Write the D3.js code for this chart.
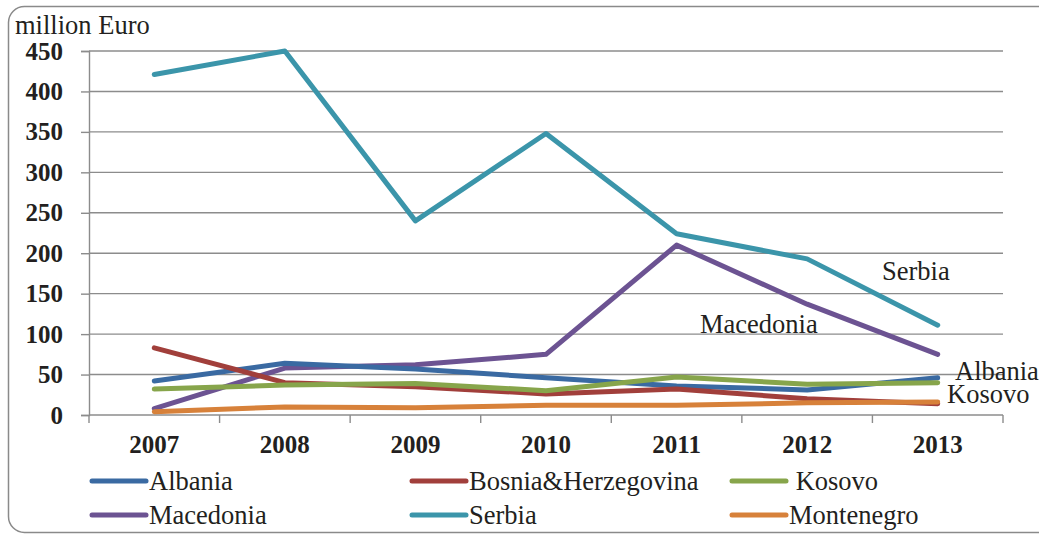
<!DOCTYPE html>
<html>
<head>
<meta charset="utf-8">
<script src="https://cdn.jsdelivr.net/npm/d3@7"></script>
<style>
body{margin:0;background:#fff;}
</style>
</head>
<body>
<div id="chart"></div>
<script>
var years=["2007","2008","2009","2010","2011","2012","2013"];
var yTicks=[0,50,100,150,200,250,300,350,400,450];
var albania=[42,64,57,46,36,31,46];
var bosnia=[83,40,35,26,32,20,14];
var kosovo=[32,37,39,30,47,38,40];
var macedonia=[8,58,62,75,210,137,75];
var serbia=[421,450,240,348,224,193,111];
var montenegro=[4,10,9,12,12,15,16];

var series=[
  {name:"Albania",values:albania,color:"#3a6aa2"},
  {name:"Bosnia&Herzegovina",values:bosnia,color:"#a13f3b"},
  {name:" Kosovo",values:kosovo,color:"#87a54b"},
  {name:"Macedonia",values:macedonia,color:"#6c5392"},
  {name:"Serbia",values:serbia,color:"#3b95aa"},
  {name:"Montenegro",values:montenegro,color:"#d7813a"}
];
// order lines are drawn
var drawOrder=[4,3,0,1,2,5];

var serifFont="Liberation Serif";
var textColor="#231f20";
var textSize="26.5px";
var tickSize="25px";

var w=1039,h=536;
var pad={top:51,bottom:121,left:89,right:36};

var svg=d3.select("#chart").append("svg")
          .attr("width",w)
          .attr("height",h)
          .attr("font-family",serifFont);

//Rounded frame
svg.append("rect")
   .attr("x",8.5).attr("y",6.5)
   .attr("width",1045).attr("height",526)
   .attr("rx",16).attr("ry",16)
   .style("fill","none")
   .style("stroke","#8a8a8a")
   .style("stroke-width",1.5);

var xScale=d3.scaleBand()
             .domain(years)
             .range([pad.left,w-pad.right])
             .padding(0);
var yScale=d3.scaleLinear()
             .domain([0,450])
             .range([h-pad.bottom,pad.top]);

//Grid lines
svg.append("g")
   .selectAll("line")
   .data(yTicks.filter(function(d){return d>0;}))
   .enter()
   .append("line")
   .attr("x1",pad.left).attr("x2",w-pad.right)
   .attr("y1",function(d){return yScale(d);})
   .attr("y2",function(d){return yScale(d);})
   .style("stroke","#8c8c8c")
   .style("stroke-width",1.4);

//Y axis
var yAxis=d3.axisLeft(yScale).tickValues(yTicks).tickSize(8).tickPadding(18);
var gy=svg.append("g")
   .attr("transform","translate("+pad.left+",0)")
   .call(yAxis)
   .attr("font-family",serifFont);
gy.select(".domain").style("stroke","#8c8c8c").style("stroke-width",1.4);
gy.selectAll(".tick line").style("stroke","#8c8c8c").style("stroke-width",1.4);
gy.selectAll(".tick text")
  .style("font-family",serifFont)
  .style("font-size",tickSize)
  .style("font-weight","bold")
  .style("fill",textColor);

//X axis: labels at band centres, tick marks at band edges
var xAxis=d3.axisBottom(xScale).tickSize(0).tickPadding(20);
var gx=svg.append("g")
   .attr("transform","translate(0,"+(h-pad.bottom)+")")
   .call(xAxis)
   .attr("font-family",serifFont);
gx.select(".domain").remove();
gx.selectAll(".tick text")
  .style("font-family",serifFont)
  .style("font-size",tickSize)
  .style("font-weight","bold")
  .style("fill",textColor);
var edges=years.map(function(d){return xScale(d);}).concat([w-pad.right]);
gx.append("line")
  .attr("x1",pad.left).attr("x2",w-pad.right)
  .style("stroke","#8c8c8c").style("stroke-width",1.4);
gx.selectAll(".edge")
  .data(edges)
  .enter()
  .append("line")
  .attr("class","edge")
  .attr("x1",function(d){return d;}).attr("x2",function(d){return d;})
  .attr("y1",0).attr("y2",8)
  .style("stroke","#8c8c8c").style("stroke-width",1.4);

function label(x,y,t){
  return svg.append("text")
     .attr("x",x).attr("y",y)
     .style("font-family",serifFont)
     .style("font-size",textSize)
     .style("fill",textColor)
     .text(t);
}

//Unit label
label(15,34,"million Euro");

//Lines
var line=d3.line()
           .x(function(d,i){return xScale(years[i])+xScale.bandwidth()/2;})
           .y(function(d){return yScale(d);});
drawOrder.forEach(function(k){
  var s=series[k];
  svg.append("path")
     .datum(s.values)
     .attr("d",line)
     .style("fill","none")
     .style("stroke",s.color)
     .style("stroke-width",5)
     .style("stroke-linecap","round")
     .style("stroke-linejoin","round");
});

//In-chart labels
label(882,280,"Serbia");
label(700,333,"Macedonia");
label(955,380,"Albania");
label(947,403,"Kosovo");

//Legend
var legX=[92,412,732];
var legY=[481,515];
var leg=svg.append("g");
series.forEach(function(s,i){
  var col=i%3,row=Math.floor(i/3);
  var g=leg.append("g").attr("transform","translate("+legX[col]+","+legY[row]+")");
  g.append("line")
   .attr("x1",0).attr("x2",54)
   .style("stroke",s.color)
   .style("stroke-width",5)
   .style("stroke-linecap","round");
  g.append("text")
   .attr("x",57).attr("y",9)
   .style("font-family",serifFont)
   .style("font-size",textSize)
   .style("fill",textColor)
   .style("white-space","pre")
   .text(s.name);
});
</script>
</body>
</html>
